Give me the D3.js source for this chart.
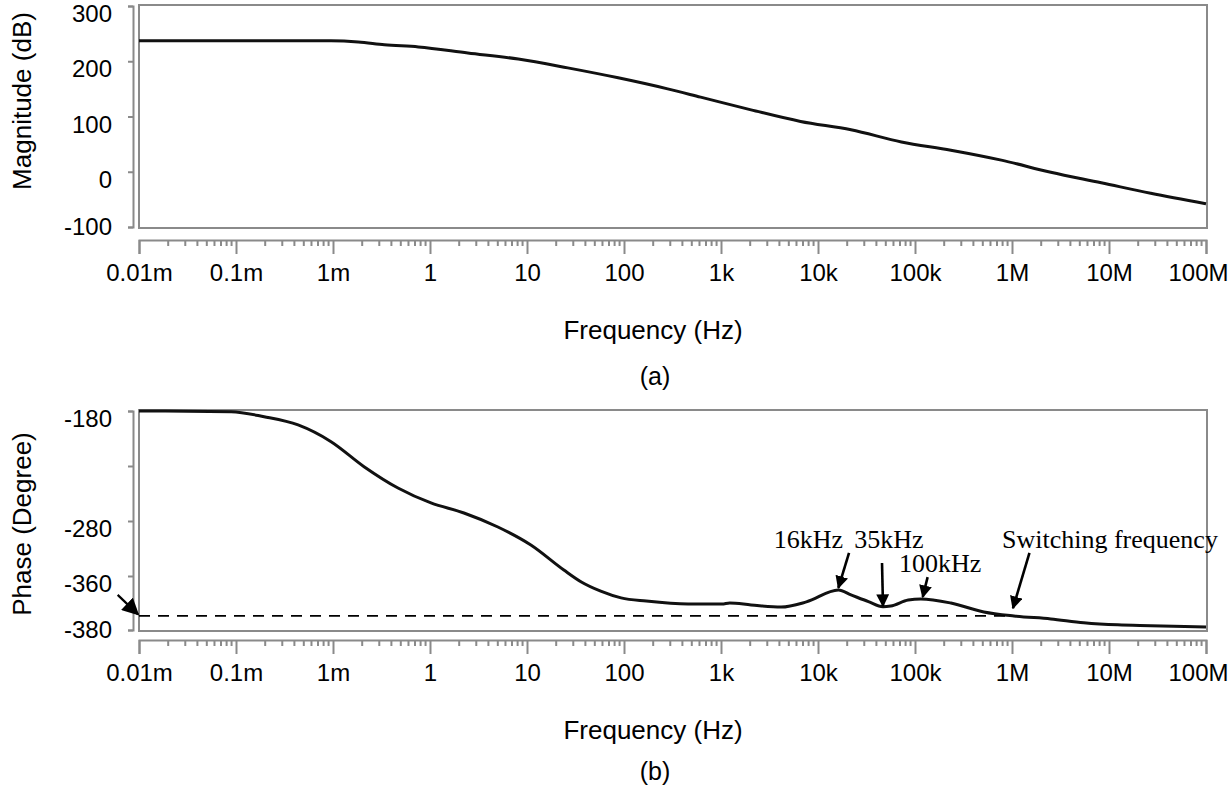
<!DOCTYPE html>
<html>
<head>
<meta charset="utf-8">
<script src="https://cdn.jsdelivr.net/npm/d3@7"></script>
<style>
  body { margin: 0; background: #fff; }
  svg { display: block; font-family: "Liberation Sans", Arial, sans-serif; }
  .axis path, .axis line { stroke: #8a8a8a; stroke-width: 2; }
  .axis text { fill: #000; font-size: 24px; font-family: "Liberation Sans", Arial, sans-serif; }
  .note { font-family: "Liberation Serif", "Times New Roman", serif; font-size: 26px; fill: #000; }
</style>
</head>
<body>
<div id="vis-container"></div>
<script>
// x axis = decade position, labelled as in the figure
let xTickLabels = ["0.01m","0.1m","1m","1","10","100","1k","10k","100k","1M","10M","100M"];

// (a) magnitude, dB
let magDec = [0, 1.98, 2.26, 2.53, 2.88, 3.39, 3.91, 4.42, 4.94, 5.45, 5.79, 6.31, 6.82, 7.34, 7.86, 8.37, 8.89, 9.40, 9.92, 10.43, 11];
let magDb  = [237, 237, 235, 230, 226, 215, 204, 188, 170, 150, 135, 112, 91, 76, 54, 39, 21, -1, -20, -39, -58];
let magTicks = [-100, 0, 100, 200, 300];

// (b) phase, degree
let phaseDec = [0, 0.95, 1.29, 1.64, 1.98, 2.32, 2.67, 3.01, 3.35, 3.70, 4.04, 4.38, 4.56, 4.76, 4.97, 5.23, 5.66, 6.01, 6.09, 6.31, 6.62, 6.88, 7.21, 7.34, 7.52, 7.67, 7.75, 7.93, 8.06, 8.37, 8.71, 9.02, 9.40, 9.74, 10.09, 10.43, 11];
let phaseDeg = [-180, -180.6, -185.2, -192.7, -207.9, -230.6, -250, -263.6, -272.7, -288.7, -314.9, -351.3, -362.2, -365.6, -368.1, -369.3, -370.4, -370.4, -370, -370.7, -371.5, -369.6, -365.2, -367, -369.5, -371.4, -371.1, -368.9, -368.5, -370, -373.3, -374.8, -375.9, -377.3, -378.1, -378.4, -378.9];
let phaseTicks = [-380, -360, -280, -230, -180];
let phaseTickLabels = ["-380", "-360", "-280", "", "-180"];
let refPhase = -374.8;   // dashed reference line
let refEnd = 9.0;

// annotations: label, label pos, arrow tail, arrow tip
let notes = [
  {text:"16kHz", lx:6.90, ly:-319.3, x0:7.32, y0:-326.5, x1:7.21, y1:-364.4},
  {text:"35kHz", lx:7.73, ly:-319.3, x0:7.66, y0:-341.1, x1:7.67, y1:-371.1},
  {text:"100kHz", lx:8.26, ly:-353.7, x0:8.13, y0:-360.4, x1:8.08, y1:-367.8},
  {text:"Switching frequency", lx:10.01, ly:-319.3, x0:9.18, y0:-326.5, x1:9.01, y1:-371.9}
];

let W = 1229, H = 787;
let svg = d3.select("#vis-container").append("svg")
  .attr("width", W).attr("height", H);

let defs = svg.append("defs");
defs.append("marker")
  .attr("id", "head")
  .attr("viewBox", "0 0 10 10")
  .attr("refX", 9).attr("refY", 5)
  .attr("markerWidth", 5).attr("markerHeight", 5)
  .attr("markerUnits", "strokeWidth")
  .attr("orient", "auto")
  .append("path").attr("d", "M0,0L10,5L0,10z").attr("fill", "#000");
defs.append("marker")
  .attr("id", "bighead")
  .attr("viewBox", "0 0 10 10")
  .attr("refX", 9).attr("refY", 5)
  .attr("markerWidth", 17).attr("markerHeight", 17)
  .attr("markerUnits", "userSpaceOnUse")
  .attr("orient", "auto")
  .append("path").attr("d", "M0,0L10,5L0,10z").attr("fill", "#000");

let x = d3.scaleLinear().domain([0, 11]).range([139, 1206]);

let yMag = d3.scaleLinear().domain([-100, 300]).range([227, 6]);
let yPh = d3.scaleLinear().domain([-380, -360, -280, -180]).range([630, 576, 521, 411]);

let minorTicks = [];
for (let i = 0; i < 11; i++) {
  for (let k = 2; k <= 9; k++) minorTicks.push(i + Math.log10(k));
}

function panel(y, yTicks, yFmt, axisY, data, xs, tag, titleY, tagY, ylab, ylabY) {
  let r = y.range();
  let y0 = r[0], y1 = r[r.length - 1];
  // frame
  svg.append("rect")
    .attr("x", x.range()[0]).attr("y", y1 - 1)
    .attr("width", x.range()[1] - x.range()[0] + 1)
    .attr("height", y0 - y1 + 2)
    .attr("fill", "none").attr("stroke", "#8a8a8a").attr("stroke-width", 2);

  // left axis
  let ya = svg.append("g").attr("class", "axis")
    .attr("transform", "translate(133,0)")
    .call(d3.axisLeft(y).tickValues(yTicks).tickFormat(yFmt).tickSize(5).tickPadding(16));
  ya.selectAll("text").attr("dy", (d, i) => i === 0 ? "0.32em" : "0.65em");

  // bottom axis
  let xa = svg.append("g").attr("class", "axis")
    .attr("transform", `translate(0,${axisY})`)
    .call(d3.axisBottom(x).tickValues(d3.range(12)).tickFormat(i => xTickLabels[i])
      .tickSize(14).tickSizeOuter(14).tickPadding(10));
  xa.selectAll(".tick text").filter(d => d === 11).attr("dx", -8);
  xa.selectAll(".minor").data(minorTicks).enter()
    .append("line").attr("class", "minor")
    .attr("x1", d => x(d)).attr("x2", d => x(d))
    .attr("y1", 0).attr("y2", 6);

  // curve
  let line = d3.line().x(d => x(d[0])).y(d => y(d[1])).curve(d3.curveMonotoneX);
  svg.append("path")
    .datum(xs.map((v, i) => [v, data[i]]))
    .attr("d", line)
    .attr("fill", "none").attr("stroke", "#111").attr("stroke-width", 3);

  svg.append("text").attr("x", 653).attr("y", titleY)
    .attr("text-anchor", "middle").attr("dominant-baseline", "central")
    .attr("font-size", "26px").text("Frequency (Hz)");
  svg.append("text").attr("x", 655).attr("y", tagY)
    .attr("text-anchor", "middle").attr("dominant-baseline", "central")
    .attr("font-size", "25px").text(tag);

  svg.append("text")
    .attr("transform", `translate(22,${ylabY}) rotate(-90)`)
    .attr("text-anchor", "middle").attr("dominant-baseline", "central")
    .attr("font-size", "26px").text(ylab);
}

panel(yMag, magTicks, d => d, 240, magDb, magDec, "(a)", 330, 376, "Magnitude (dB)", 101);
panel(yPh, phaseTicks, (d, i) => phaseTickLabels[i], 640, phaseDeg, phaseDec, "(b)", 730, 771, "Phase (Degree)", 524);

// dashed reference line
svg.append("line")
  .attr("x1", x(0)).attr("x2", x(refEnd))
  .attr("y1", yPh(refPhase)).attr("y2", yPh(refPhase))
  .attr("stroke", "#000").attr("stroke-width", 1.8)
  .attr("stroke-dasharray", "11,8");

// arrow from the -360 label to the dashed line
svg.append("line")
  .attr("x1", x(-0.22)).attr("y1", yPh(-367))
  .attr("x2", x(-0.01)).attr("y2", yPh(-374.2))
  .attr("stroke", "#000").attr("stroke-width", 2.2)
  .attr("marker-end", "url(#bighead)");

// annotations
let ann = svg.append("g");
ann.selectAll("line").data(notes).enter().append("line")
  .attr("x1", d => x(d.x0)).attr("y1", d => yPh(d.y0))
  .attr("x2", d => x(d.x1)).attr("y2", d => yPh(d.y1))
  .attr("stroke", "#000").attr("stroke-width", 2.6)
  .attr("marker-end", "url(#head)");
ann.selectAll("text").data(notes).enter().append("text")
  .attr("class", "note")
  .attr("x", d => x(d.lx)).attr("y", d => yPh(d.ly))
  .attr("text-anchor", "middle")
  .text(d => d.text);
</script>
</body>
</html>
